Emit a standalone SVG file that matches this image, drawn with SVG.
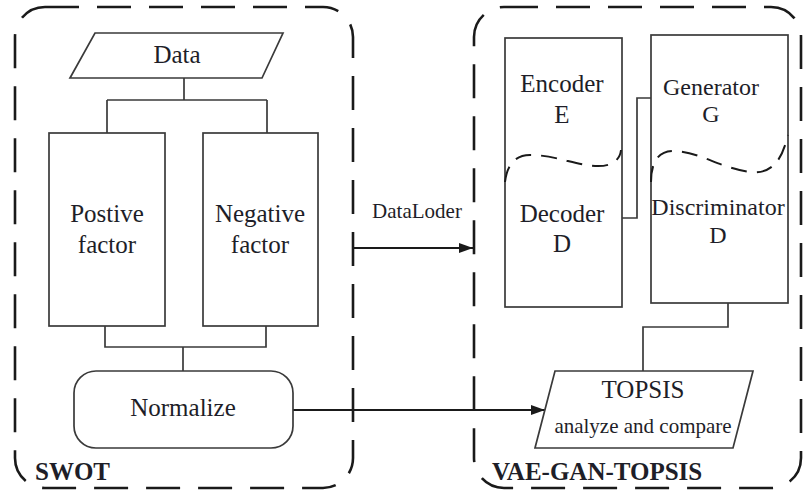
<svg xmlns="http://www.w3.org/2000/svg" width="804" height="491" viewBox="0 0 804 491">
  <defs>
    <marker id="arrow" viewBox="0 0 14 10" refX="14" refY="5" markerWidth="14" markerHeight="10" markerUnits="userSpaceOnUse" orient="auto">
      <path d="M0,0 L14,5 L0,10 Z" fill="#1a1a1a"/>
    </marker>
    <style>
      .frame { fill: none; stroke: #1a1a1a; stroke-width: 2.6; stroke-dasharray: 34 18; }
      .box { fill: #fff; stroke: #3a3a3a; stroke-width: 1.7; }
      .wave { fill: none; stroke: #1a1a1a; stroke-width: 2; stroke-dasharray: 16 10; }
      .link { fill: none; stroke: #3a3a3a; stroke-width: 1.7; }
      .arrow { fill: none; stroke: #1a1a1a; stroke-width: 1.8; marker-end: url(#arrow); }
      text { font-family: 'Liberation Serif', 'DejaVu Serif', serif; fill: #1e1e28; text-anchor: middle; }
      .t25 { font-size: 25px; }
      .t24 { font-size: 24px; }
      .t21 { font-size: 21px; }
      .title { font-size: 25px; font-weight: bold; text-anchor: start; }
    </style>
  </defs>

  <rect width="804" height="491" fill="#fff"/>

  <!-- group frames -->
  <g id="swot-frame">
    <rect class="frame" x="15" y="7" width="338" height="481" rx="30" ry="30"/>
    <text class="title" x="35" y="480" font-family="Liberation Serif, serif">SWOT</text>
  </g>
  <g id="vae-gan-topsis-frame">
    <rect class="frame" x="474" y="7" width="327" height="481" rx="30" ry="30"/>
    <text class="title" x="492" y="480" font-family="Liberation Serif, serif">VAE-GAN-TOPSIS</text>
  </g>

  <!-- connectors -->
  <g id="connectors">
    <path class="link" d="M184,78 V100 M107,100 H267 M107,100 V133 M267,100 V133"/>
    <path class="link" d="M105,326 V347 H266 V326 M183,347 V371"/>
    <path class="link" d="M621,218 H637 V98 H651"/>
    <path class="link" d="M728,303 V327 H643 V371"/>
    <path class="arrow" d="M353,248 H473"/>
    <path class="arrow" d="M293,410 H545"/>
    <text class="t21" x="417" y="218">DataLoder</text>
  </g>

  <!-- SWOT nodes -->
  <g id="data">
    <path class="box" d="M95,33 H283 L262,78 H70 Z"/>
    <text class="t25" x="177" y="63">Data</text>
  </g>
  <g id="positive-factor">
    <rect class="box" x="49" y="133" width="116" height="193"/>
    <text class="t25" x="107" y="222">Postive</text>
    <text class="t25" x="107" y="253">factor</text>
  </g>
  <g id="negative-factor">
    <rect class="box" x="203" y="133" width="115" height="193"/>
    <text class="t25" x="260" y="222">Negative</text>
    <text class="t25" x="260" y="253">factor</text>
  </g>
  <g id="normalize">
    <rect class="box" x="74" y="371" width="219" height="77" rx="22" ry="22"/>
    <text class="t25" x="183" y="416">Normalize</text>
  </g>

  <!-- VAE-GAN-TOPSIS nodes -->
  <g id="vae">
    <rect class="box" x="505" y="38" width="117" height="269"/>
    <path class="wave" d="M505,182 C507,165 515,155 530,155 C555,155 575,165 595,166 C612,167 620,160 621,150"/>
    <text class="t25" x="562" y="92">Encoder</text>
    <text class="t25" x="562" y="123">E</text>
    <text class="t25" x="562" y="222">Decoder</text>
    <text class="t25" x="562" y="252">D</text>
  </g>
  <g id="gan">
    <rect class="box" x="651" y="35" width="137" height="268"/>
    <path class="wave" d="M651,182 C651,160 660,150 675,151 C700,152 720,168 750,172 C775,175 783,155 788,135"/>
    <text class="t24" x="711" y="95">Generator</text>
    <text class="t24" x="711" y="122">G</text>
    <text class="t24" x="718" y="215">Discriminator</text>
    <text class="t24" x="718" y="243">D</text>
  </g>
  <g id="topsis">
    <path class="box" d="M555,371 H753 L733,448 H535 Z"/>
    <text class="t25" x="643" y="398">TOPSIS</text>
    <text class="t21" x="643" y="433">analyze and compare</text>
  </g>
</svg>
